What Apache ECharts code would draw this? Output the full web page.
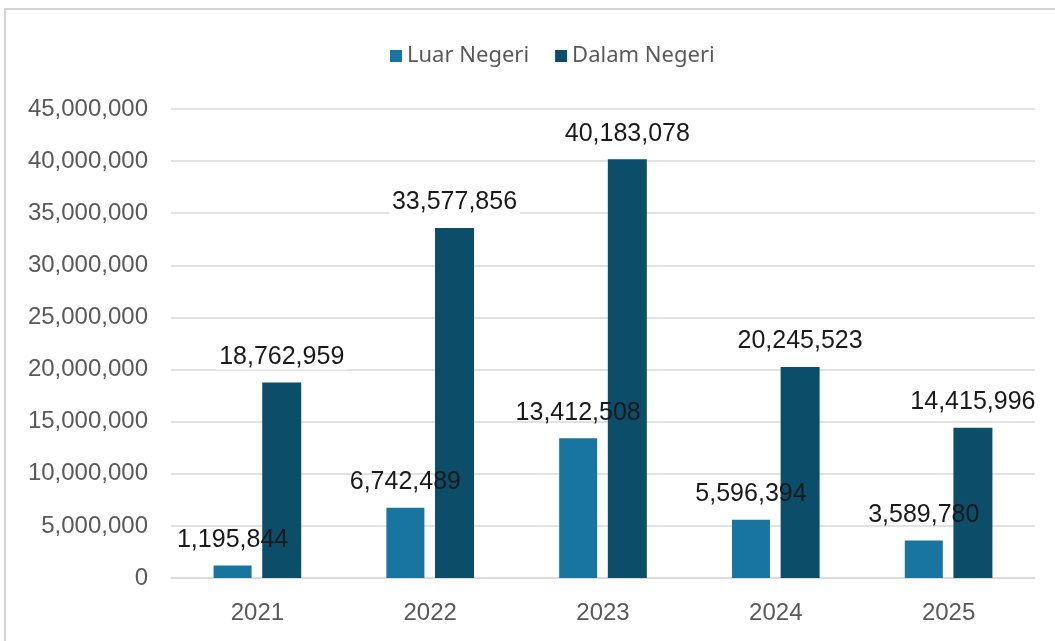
<!DOCTYPE html>
<html><head><meta charset="utf-8">
<script src="https://cdn.jsdelivr.net/npm/echarts@6/dist/echarts.min.js"></script>
<style>html,body{margin:0;padding:0;background:#fff}#c{width:1055px;height:641px}</style>
</head><body><div id="c"></div>
<script>
const categories = ['2021','2022','2023','2024','2025'];
const luarNegeri = [1195844, 6742489, 13412508, 5596394, 3589780];
const dalamNegeri = [18762959, 33577856, 40183078, 20245523, 14415996];
const seriesNames = ['Luar Negeri','Dalam Negeri'];

const chart = echarts.init(document.getElementById('c'));
const fmt = v => v.toLocaleString('en-US');
const baseLabel = {
  show: true, position: 'top', distance: 13,
  color: '#1a1a1a', fontSize: 25, fontFamily: 'Liberation Sans, Arial',
  formatter: p => fmt(p.value)
};
chart.setOption({
  animation: false,
  graphic: [{type:'rect', shape:{x:5,y:9,width:1100,height:700}, style:{fill:'none', stroke:'#d4d4d4', lineWidth:2}, silent:true}],
  legend: {
    top: 40, left: 385, itemWidth: 12, itemHeight: 12, itemGap: 26,
    icon: 'rect',
    textStyle: {color:'#595959', fontSize: 22, fontFamily: 'Noto Sans'},
    data: seriesNames
  },
  grid: {left: 171, right: 20, top: 109, bottom: 63, containLabel: false},
  xAxis: {
    type: 'category', data: categories,
    axisLine: {lineStyle:{color:'#d9d9d9', width:1.5}}, axisTick:{show:false},
    axisLabel: {color:'#595959', fontSize: 24, fontFamily:'Liberation Sans, Arial', margin: 23}
  },
  yAxis: {
    type: 'value', min: 0, max: 45000000, interval: 5000000,
    axisLine:{show:false}, axisTick:{show:false},
    splitLine:{lineStyle:{color:'#d9d9d9', width:1.5}},
    axisLabel: {color:'#595959', fontSize: 24, fontFamily:'Liberation Sans, Arial', margin: 23, formatter: v => fmt(v)}
  },
  series: [
    {name: seriesNames[0], type:'bar', data: luarNegeri, barWidth: 38, barGap: '28%', itemStyle:{color:'#1875a0'}, label: baseLabel},
    {name: seriesNames[1], type:'bar', data: dalamNegeri, barWidth: 39, itemStyle:{color:'#0c4d6a'},
     label: Object.assign({}, baseLabel, {backgroundColor:'#fff', padding:[0,3]})}
  ]
});
</script></body></html>
